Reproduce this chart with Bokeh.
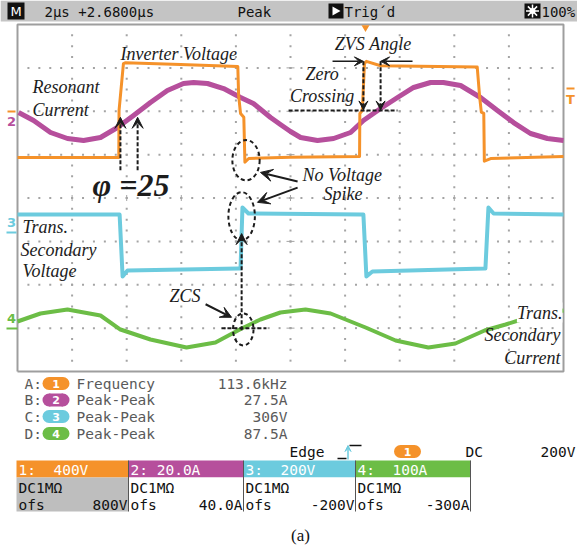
from bokeh.plotting import figure
from bokeh.models import Range1d, Arrow, VeeHead, Label
from bokeh.core.properties import value
from bokeh.embed import file_html
from bokeh.resources import INLINE

# ---------------------------------------------------------------------------
# Captured waveforms: time in µs from the left screen edge (2 µs/div),
# level in screen divisions (0 = centre line, +-4 = top/bottom).
# ---------------------------------------------------------------------------
ch1_t = [0.0, 3.71, 3.72, 3.88, 3.96, 5.97, 8.07, 8.10, 8.17, 8.29, 8.33, 8.47, 10.0,
         12.53, 12.54, 12.63, 12.71, 12.78, 13.30, 16.84, 16.93, 16.99, 17.08, 17.10, 17.33, 20.0]
ch1_v = [0.934, 0.934, 2.017, 3.10, 3.12, 3.08, 3.03, 2.36, 1.95, 1.86, 0.825, 0.91, 0.94,
         0.957, 1.95, 2.017, 3.10, 3.15, 3.05, 3.02, 2.32, 1.98, 1.95, 0.85, 0.91, 0.957]

ch2_t = [0.04, 0.59, 1.21, 1.83, 2.42, 3.04, 3.66, 4.25, 4.87, 5.49, 6.08, 6.45, 6.96, 7.55,
         8.17, 8.64, 9.27, 9.63, 10.0, 10.37, 10.99, 11.58, 12.20, 12.67, 13.30, 13.92, 14.51,
         15.13, 15.60, 16.23, 16.96, 17.58, 18.17, 18.79, 19.41, 20.0]
ch2_v = [1.971, 1.787, 1.510, 1.372, 1.326, 1.395, 1.625, 1.902, 2.202, 2.478, 2.640, 2.663,
         2.640, 2.524, 2.317, 2.179, 1.856, 1.695, 1.533, 1.395, 1.326, 1.372, 1.510, 1.787,
         2.063, 2.317, 2.548, 2.663, 2.663, 2.594, 2.317, 2.017, 1.740, 1.487, 1.372, 1.326]

ch3_t = [0.0, 3.74, 3.85, 4.03, 8.10, 8.17, 8.24, 8.46, 12.60, 12.67, 12.78, 13.0,
         17.11, 17.14, 17.25, 17.44, 20.0]
ch3_v = [-0.380, -0.380, -1.810, -1.671, -1.625, -1.625, -0.219, -0.357, -0.380, -0.380,
         -1.810, -1.695, -1.625, -1.625, -0.219, -0.357, -0.380]

ch4_t = [0.0, 0.84, 1.83, 3.04, 3.77, 4.87, 6.19, 7.25, 8.21, 8.90, 9.63, 10.55, 11.47,
         12.75, 13.85, 15.05, 16.04, 17.11, 17.88, 18.46, 19.34, 20.0]
ch4_v = [-2.847, -2.663, -2.571, -2.709, -3.032, -3.262, -3.447, -3.331, -3.009, -2.801,
         -2.640, -2.571, -2.663, -2.986, -3.285, -3.447, -3.354, -3.055, -2.917, -2.801,
         -2.663, -2.594]

# Measurement read-outs and channel settings
meas_keys = ["A:", "B:", "C:", "D:"]
meas_src = ["1", "2", "3", "4"]
meas_names = ["Frequency", "Peak-Peak", "Peak-Peak", "Peak-Peak"]
meas_values = ["113.6kHz", "27.5A", "306V", "87.5A"]
ch_scale = ["400V", "20.0A", "200V", "100A"]
ch_offset = ["800V", "40.0A", "-200V", "-300A"]
ch_colors = ["#f5922a", "#b64f9c", "#6ccbde", "#6cbd46"]

# ---------------------------------------------------------------------------
# Screen geometry (pixels) and the mapping onto time / division units
# ---------------------------------------------------------------------------
W, H = 577, 555
GL, GR, GT, GB = 17, 563, 24, 371
NX, NY, US_PER_DIV = 10, 8, 2.0
PX_US = (GR - GL) / (NX * US_PER_DIV)
PX_DIV = (GB - GT) / NY
MID = (GT + GB) / 2
NBSP = "\u00a0"


def X(px):
    return (px - GL) / PX_US


def Y(py):
    return (MID - py) / PX_DIV


p = figure(width=W, height=H, x_range=Range1d(X(0), X(W)), y_range=Range1d(Y(H), Y(0)),
           output_backend="svg", toolbar_location=None, x_axis_location=None,
           y_axis_location=None, min_border=0, outline_line_color=None)
p.grid.visible = False
p.background_fill_color = "white"
p.border_fill_color = "white"

INK = "#1c1c1c"
MONO = "DejaVu Sans Mono"
SERIF = "Liberation Serif"
NOTE_SIZE = 18


def txt(x, y, s, size=14, color=INK, font=MONO, style="normal", align="left"):
    p.text(x=[x], y=[y], text=[s.replace(" ", NBSP)], text_font=value(font),
           text_font_size=value(f"{size}px"), text_color=color,
           text_font_style=value(style), text_align=value(align),
           text_baseline=value("middle"))


def ptxt(px, py, s, **kw):
    txt(X(px), Y(py), s, **kw)


def pbox(x0, y0, x1, y1, color):
    p.quad(left=[X(x0)], right=[X(x1)], top=[Y(y0)], bottom=[Y(y1)],
           fill_color=color, line_color=None)


def pline(xs, ys, color="#444", width=1.0):
    p.line([X(v) for v in xs], [Y(v) for v in ys], line_color=color, line_width=width)


# ---------------- graticule ----------------
DOT = "#a4a4a4"
dx, dy = [], []
for k in range(1, NX):
    for j in range(1, NY * 4):
        dx.append(k * US_PER_DIV)
        dy.append(-NY / 2 + j * 0.25)
for k in range(-NY // 2 + 1, NY // 2):
    for j in range(1, NX * 5):
        dx.append(j * US_PER_DIV / 5)
        dy.append(k)
p.scatter(dx, dy, marker="square", size=2, fill_color=DOT, line_color=None)

# small ticks where the centre cross meets the major divisions
cx = [k * US_PER_DIV for k in range(1, NX)]
p.segment(x0=cx, y0=[-3 / PX_DIV] * len(cx), x1=cx, y1=[3 / PX_DIV] * len(cx),
          line_color=DOT, line_width=1)
cy = [k for k in range(-NY // 2 + 1, NY // 2)]
p.segment(x0=[10 - 4 / PX_US] * len(cy), y0=cy, x1=[10 + 4 / PX_US] * len(cy), y1=cy,
          line_color=DOT, line_width=1)

# frame
p.line([0, 0, NX * US_PER_DIV, NX * US_PER_DIV, 0], [-4, 4, 4, -4, -4],
       line_color="#9e9e9e", line_width=2)

# ---------------- traces ----------------
p.line(ch4_t, ch4_v, line_color=ch_colors[3], line_width=4, line_join="round")
p.line(ch3_t, ch3_v, line_color=ch_colors[2], line_width=4, line_join="round")
p.line(ch2_t, ch2_v, line_color=ch_colors[1], line_width=5, line_join="round")
p.line(ch1_t, ch1_v, line_color=ch_colors[0], line_width=3, line_join="round")

# channel ground markers and trigger level
pline([7, 15], [111, 111], ch_colors[0], 2)
ptxt(11, 121, "2", size=13, color=ch_colors[1], font="DejaVu Sans", style="bold", align="center")
ptxt(11, 222, "3", size=13, color=ch_colors[2], font="DejaVu Sans", style="bold", align="center")
pline([6, 16], [232, 232], ch_colors[2], 2)
ptxt(11, 318, "4", size=13, color=ch_colors[3], font="DejaVu Sans", style="bold", align="center")
pline([6, 17], [328, 328], ch_colors[3], 2)
pline([566, 574], [88, 88], ch_colors[0], 2)
ptxt(570, 99, "T", size=13, color=ch_colors[0], font="DejaVu Sans", style="bold", align="center")
p.scatter([X(365)], [Y(27)], marker="inverted_triangle", size=8, fill_color=ch_colors[0],
          line_color=None)

# ---------------- annotations ----------------
def arrow(t0, v0, t1, v1, dash="solid", width=2, head=11):
    p.add_layout(Arrow(end=VeeHead(size=head, fill_color=INK, line_color=INK, line_width=1),
                       x_start=t0, y_start=v0, x_end=t1, y_end=v1, line_color=INK,
                       line_width=width, line_dash=dash))


def ring(t, v, w, h):
    p.ellipse(x=[t], y=[v], width=[w], height=[h], fill_color=None, line_color=INK,
              line_width=2, line_dash="4 3")


def note(t, v, s, size=NOTE_SIZE, align="left", style="italic"):
    txt(t, v, s, size=size, font=SERIF, style=style, align=align)


note(3.77, 3.33, "Inverter Voltage")
note(0.55, 2.55, "Resonant")
note(0.55, 2.04, "Current")
note(2.75, 0.29, "φ =25", size=32, style="bold italic")
arrow(3.77, 0.64, 3.77, 1.86, dash="4 2")
arrow(4.40, 0.64, 4.40, 1.86, dash="4 2")

note(11.62, 3.56, "ZVS Angle")
note(10.55, 2.85, "Zero")
note(9.98, 2.36, "Crossing")
arrow(11.54, 3.15, 12.67, 3.15, width=1.5, head=9)
arrow(14.47, 3.15, 13.30, 3.15, width=1.5, head=9)
arrow(12.67, 3.15, 12.67, 2.03, dash="4 2", head=9)
arrow(13.30, 3.15, 13.30, 2.03, dash="4 2", head=9)
p.line([9.93, 13.92], [2.02, 2.02], line_color=INK, line_width=2, line_dash="4 2")

ring(8.37, 0.87, 1.0, 0.93)
ring(8.21, -0.42, 0.97, 1.11)
note(10.44, 0.52, "No Voltage")
note(11.21, 0.10, "Spike")
arrow(10.26, 0.38, 8.90, 0.59, head=12)
arrow(10.26, 0.24, 8.79, -0.10, head=12)

note(0.18, -0.68, "Trans.")
note(0.11, -1.21, "Secondary")
note(0.18, -1.69, "Voltage")

note(5.57, -2.27, "ZCS")
arrow(6.89, -2.45, 7.84, -2.75, head=11)
ring(8.27, -3.03, 0.75, 0.74)
p.line([7.47, 9.12], [-3.0, -3.0], line_color=INK, line_width=2, line_dash="4 2")
arrow(8.21, -3.05, 8.21, -0.82, dash="4 2", head=11)

p.add_layout(Label(x=19.96, y=-2.64, text="Trans.", text_font=SERIF,
                   text_font_size=f"{NOTE_SIZE}px", text_font_style="italic", text_color=INK,
                   text_align="right", text_baseline="middle", background_fill_color="white"))
note(19.89, -3.17, "Secondary", align="right")
note(19.89, -3.70, "Current", align="right")

# ---------------- status bar ----------------
pbox(0, 0, W, 21, "#c4c4c4")
pbox(7, 2, 24, 19, "#111111")
ptxt(15.5, 11, "M", size=13, color="white", font="DejaVu Sans", align="center")
ptxt(44, 11, "2µs +2.6800µs", size=14, color="#111")
ptxt(237, 11, "Peak", size=14, color="#111")
pbox(328, 3, 343, 18, "#111111")
p.patch([X(332), X(332), X(340)], [Y(6), Y(15), Y(10.5)], fill_color="white", line_color=None)
ptxt(344, 11, "Trig´d", size=14, color="#111")
pbox(524, 3, 540, 18, "#111111")
p.scatter([X(532)], [Y(10.5)], marker="circle", size=6, fill_color="white", line_color=None)
p.scatter([X(532)], [Y(10.5)], marker="asterisk", size=13, line_color="white", line_width=1.5)
ptxt(541, 11, "100%", size=14, color="#111")

# ---------------- measurement read-outs ----------------
def pill(px, py, label, color):
    pbox(px - 7, py - 6.5, px + 7, py + 6.5, color)
    p.scatter([X(px - 7), X(px + 7)], [Y(py), Y(py)], marker="circle", size=13,
              fill_color=color, line_color=None)
    ptxt(px, py, label, size=11, color="white", font="DejaVu Sans", style="bold", align="center")


GREY = "#5a5a5a"
rows = [383, 399.5, 416, 433]
for i, ry in enumerate(rows):
    ptxt(24, ry, meas_keys[i], size=14.5, color=GREY)
    pill(55.5, ry, meas_src[i], ch_colors[i])
    ptxt(76, ry, meas_names[i], size=14.5, color=GREY)
    ptxt(287, ry, meas_values[i], size=14.5, color=GREY, align="right")

ptxt(289, 451, "Edge", size=14.5, color="#111")
pline([337, 346], [458, 458], "#111", 1.5)
pline([349, 361], [445, 445], "#111", 1.5)
p.add_layout(Arrow(end=VeeHead(size=6, fill_color=ch_colors[2], line_color=ch_colors[2]),
                   x_start=X(347.5), y_start=Y(459), x_end=X(347.5), y_end=Y(445),
                   line_color=ch_colors[2], line_width=1.5))
pill(407, 451, "1", ch_colors[0])
ptxt(465, 451, "DC", size=14.5, color="#111")
ptxt(575, 451, "200V", size=14.5, color="#111", align="right")

# ---------------- channel setting boxes ----------------
bx = [16, 128, 243, 355, 470]
for i in range(4):
    pbox(bx[i], 460, bx[i + 1], 477, ch_colors[i])
    pbox(bx[i], 477, bx[i + 1], 511, "#bebebe" if i == 0 else "white")
    ptxt(bx[i] + 2, 469, f"{i + 1}: {ch_scale[i]:>5}", size=14.5, color="white")
    ptxt(bx[i] + 2, 487, "DC1MΩ", size=14.5, color="#111")
    ptxt(bx[i] + 2, 504, "ofs", size=14.5, color="#111")
    ptxt(bx[i + 1] - 1, 504, ch_offset[i], size=14.5, color="#111", align="right")
for xb in bx[1:]:
    pline([xb, xb], [460, 511], "#555", 1)

ptxt(300, 535, "(a)", size=17, color="#111", font=SERIF, align="center")

open("out.html", "w").write(file_html(p, INLINE))
